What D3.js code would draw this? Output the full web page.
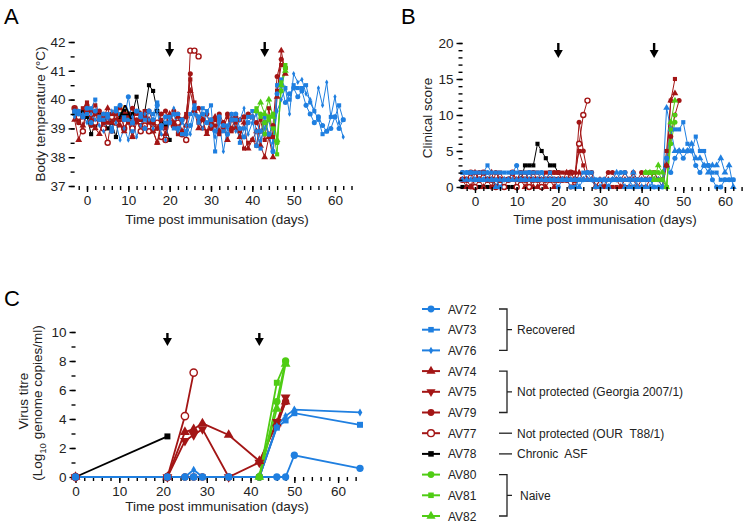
<!DOCTYPE html>
<html><head><meta charset="utf-8">
<script src="https://cdn.jsdelivr.net/npm/d3@7"></script>
<style>
body{margin:0;background:#fff;}
svg{display:block;font-family:"Liberation Sans",Arial,sans-serif;}
</style></head><body>
<svg id="c" width="754" height="523"></svg>
<script>
// ---------------- DATA ----------------
const animals = ["AV72","AV73","AV76","AV74","AV75","AV79","AV77","AV78","AV80","AV81","AV82"];
const groups  = ["rec","rec","rec","np","np","np","our","chr","nai","nai","nai"];
const legendSymbols = ["circle","square","diamond","triangle","triangleDown","circle","circleOpen","square","circle","square","triangle"];
const symbolsA = ["circle","square","diamond","triangle","square","circle","circleOpen","square","circle","square","triangle"];
const symbolsB = ["circle","square","triangle","triangle","square","circle","circleOpen","square","circle","square","triangle"];
const drawOrder = [7,6,3,4,5,0,1,2,8,9,10];

// Panel A: body temperature, daily, starting at startDays
const tempStartDays = [-3,-3,-3,-3,-3,-3,-3,-3,41,41,41];
const tempAV72 = [39.6,39.5,39.4,39.7,39.2,39.6,39.3,39.5,39.4,38.9,39.6,39.8,39.3,
  40.1,39.2,39.6,39.4,39.0,39.6,39.3,39.8,39.1,39.4,
  39.2,39.5,39.0,39.3,38.8,39.1,39.7,39.4,39.5,39.2,
  39.3,38.9,39.4,39.1,38.8,39.3,39.5,39.0,38.7,39.2,
  39.4,38.4,38.9,39.2,38.8,38.2,40.2,40.5,39.9,40.2,
  40.4,40.1,40.3,39.8,39.5,39.2,39.4,39.1,38.9,39.0,
  39.4,39.0,39.3];
const tempAV73 = [39.5,39.6,39.4,39.5,39.7,40.0,39.4,39.3,39.5,39.0,39.7,39.5,39.4,
  39.3,38.9,39.6,39.5,39.3,39.6,39.5,39.9,39.0,39.2,
  39.4,39.0,39.5,38.8,38.9,39.5,39.8,39.2,39.7,39.6,
  39.8,38.2,39.3,38.9,39.1,39.5,39.3,38.5,39.0,39.4,
  39.6,38.9,38.3,39.4,38.8,38.2,40.5,40.7,40.4,40.0,
  40.5,40.4,40.4,40.5,39.9,39.6,39.3,38.8,38.9,39.4,
  39.4,39.8,39.3];
const tempAV76 = [39.4,39.6,39.5,39.2,39.5,39.3,39.1,38.9,39.4,39.6,39.2,38.6,39.0,
  38.6,39.4,38.7,39.1,39.5,39.3,39.0,39.6,38.8,38.6,
  39.3,39.7,38.9,39.2,39.1,38.8,39.5,39.3,39.0,39.5,
  39.1,38.7,39.2,38.2,39.0,39.5,38.9,39.3,39.7,38.8,
  39.2,39.5,38.6,39.0,39.3,38.5,39.6,40.0,40.4,39.5,
  40.9,40.6,40.7,40.2,40.0,39.6,40.4,39.8,40.6,39.4,
  40.1,39.2,38.7];
const tempAV74 = [39.3,38.6,39.1,39.6,39.3,39.0,38.8,39.4,39.7,39.2,39.5,39.1,38.9,
  39.4,38.7,39.2,39.5,39.0,39.3,38.9,38.5,39.1,38.8,
  39.5,39.2,39.4,38.9,39.1,40.3,39.6,39.0,39.3,38.8,
  39.2,39.4,38.9,39.1,38.6,39.3,39.0,38.7,39.2,38.3,
  38.6,38.9,38.4,38.0,38.7,38.0,40.1,41.7,40.9];
const tempAV75 = [39.7,39.5,39.7,39.9,39.6,39.8,39.3,39.5,39.2,39.5,39.3,39.7,39.0,
  39.2,38.7,39.5,39.3,39.6,39.2,38.9,38.5,39.3,39.0,
  39.4,39.1,38.8,39.3,39.5,40.7,39.9,39.2,39.0,38.9,
  39.3,39.1,38.8,39.0,39.4,38.9,39.2,38.9,38.3,38.5,
  38.6,38.4,39.3,38.6,39.7,38.7,40.3,41.2,41.1];
const tempAV79 = [39.6,39.2,39.4,39.8,39.1,39.5,39.6,39.2,39.4,38.9,39.6,39.3,39.5,
  39.5,39.7,39.3,39.1,39.4,39.6,39.2,39.0,39.5,39.6,
  39.2,39.6,39.5,39.3,39.4,40.9,39.6,39.7,39.3,39.5,
  39.0,39.3,39.5,39.2,39.5,39.0,39.4,39.3,39.4,39.5,
  39.4,39.2,38.9,39.2,38.8,39.1,40.8,41.4,41.1];
const tempAV77 = [39.7,39.4,38.9,39.6,39.5,39.2,39.4,39.0,38.5,39.4,39.2,39.6,39.0,
  39.3,39.0,39.4,38.9,39.1,38.9,39.0,39.2,38.7,38.6,
  39.3,39.1,39.2,38.8,38.6,41.7,41.7,41.5];
const tempAV78 = [39.5,39.2,39.6,39.4,38.8,39.1,39.5,39.3,39.0,39.2,38.7,39.5,39.6,
  39.3,39.5,40.1,39.3,39.6,40.5,40.3,39.6,39.2,39.1,38.6];
const tempAV80 = [39.6,39.5,39.2,39.4,39.5,38.5,40.3,41.1];
const tempAV81 = [39.7,39.4,38.8,39.3,39.0,38.1,40.6,41.2];
const tempAV82 = [39.6,39.9,39.5,40.0,39.4,38.6,40.5,41.0];

// Panel B: clinical score
const scoreStartDays = [-3,-3,-3,-3,-3,-3,-3,-3,41,41,41];
const scoreAV72 = [2,2,2,1,1,1,2,1,1,0,1,1,2, 3,1,1,2,1,1,2,1,1,1, 0,1,1,0,0,1,1,2,1,1,
  1,1,0,1,1,2,2,1,0,1, 1,1,1,0,0,0,4,2,4,5, 4,5,5,3,2,3,3,1,0,0, 1,1,1];
const scoreAV73 = [2,2,2,2,2,2,3,2,2,2,2,2,2, 2,2,2,2,2,2,2,1,2,1, 1,1,1,1,1,1,2,2,2,1,
  1,1,1,1,1,1,1,1,1,1, 1,1,1,1,1,1,4,8,8,8, 9,6,5,7,5,5,3,2,2,1, 1,1,1];
const scoreAV76 = [1,1,1,1,1,1,1,1,0,1,1,1,1, 1,1,1,1,1,1,1,1,1,1, 1,1,1,1,1,0,1,1,1,0,
  0,1,0,1,2,1,0,0,2,0, 0,0,0,1,1,0,11,8,5,5, 5,5,6,4,4,3,2,3,3,4, 2,3,0];
const scoreAV74 = [1,0,0,2,1,0,1,2,0,1,1,1,1, 1,1,0,1,0,0,1,0,1,0, 1,1,2,1,0,2,1,1,1,0,
  1,0,1,1,1,0,1,1,1,0, 1,1,1,1,1,0,3,12,13];
const scoreAV75 = [1,1,2,2,1,2,1,1,1,2,1,1,2, 1,2,2,1,2,2,1,2,2,2, 2,2,2,2,2,5,3,1,1,0,
  0,0,0,0,0,0,0,0,0,0, 0,0,1,2,1,1,5,12,15];
const scoreAV79 = [2,1,0,1,2,2,1,0,2,1,1,1,2, 1,2,1,2,2,1,1,1,2,2, 2,1,1,0,1,9,5,2,2,0,
  1,1,2,2,1,1,2,1,2,1, 2,1,2,2,1,1,3,7,10,12];
const scoreAV77 = [1,1,2,0,1,2,1,1,0,1,0,1,2, 0,1,1,0,1,1,0,1,1,1, 1,1,1,2,1,6,10,12];
const scoreAV78 = [0,0,0,0,0,0,0,0,0,0,0,0,0, 0,1,3,3,3,6,5,4,3,3,2];
const scoreAV80 = [2,2,2,2,1,0,6,9];
const scoreAV81 = [2,2,1,1,1,0,8,10];
const scoreAV82 = [2,2,1,3,2,0,9,12];

// Panel C: virus titre
const virusDays = [0,21,25,27,29,35,42,46,48,50,65];
const virusAV72 = [0,0,0,0,0,0,0,0,0,1.5,0.6];
const virusAV73 = [0,0,0,0,0,0,0,3.4,3.9,4.4,3.6];
const virusAV76 = [0,0,0,0.5,0,0,0,3.5,4.2,4.65,4.45];
const virusAV74 = [0,0,3.1,3.3,3.7,2.9,1.1,3.7,5.2,null,null];
const virusAV75 = [0,0,2.5,2.9,3.3,0,1.0,3.8,5.5,null,null];
const virusAV79 = [0,0,0,0,0,0,0,3.5,5.2,null,null];
const virusAV77 = [0,0,4.2,7.2,null,null,null,null,null,null,null];
const virusAV78 = [0,2.8,null,null,null,null,null,null,null,null,null];
const virusAV80 = [null,null,null,null,null,null,0,5.2,8.0,null,null];
const virusAV81 = [null,null,null,null,null,null,0,6.5,7.9,null,null];
const virusAV82 = [null,null,null,null,null,null,0,4.7,7.8,null,null];

const tempData  = [tempAV72,tempAV73,tempAV76,tempAV74,tempAV75,tempAV79,tempAV77,tempAV78,tempAV80,tempAV81,tempAV82];
const scoreData = [scoreAV72,scoreAV73,scoreAV76,scoreAV74,scoreAV75,scoreAV79,scoreAV77,scoreAV78,scoreAV80,scoreAV81,scoreAV82];
const virusData = [virusAV72,virusAV73,virusAV76,virusAV74,virusAV75,virusAV79,virusAV77,virusAV78,virusAV80,virusAV81,virusAV82];

const arrowDaysAB = [20,43];
const arrowDaysC = [21,42];
const legendGroups = [
  {label:"Recovered", from:0, to:2},
  {label:"Not protected (Georgia 2007/1)", from:3, to:5},
  {label:"Not protected (OUR  T88/1)", from:6, to:6},
  {label:"Chronic  ASF", from:7, to:7},
  {label:"Naive", from:8, to:10}
];

// ---------------- STYLE ----------------
const groupColor = {rec:"#1f7fe0", np:"#a31515", our:"#a31515", chr:"#000000", nai:"#4fcc14"};
const svg = d3.select("#c");

function symPath(type, size){
  const map = {circle:d3.symbolCircle, circleOpen:d3.symbolCircle, square:d3.symbolSquare,
    diamond:d3.symbolDiamond, triangle:d3.symbolTriangle, triangleDown:d3.symbolTriangle};
  const s = (type==="square") ? size*0.85 : (type==="diamond"? size*0.45 : size);
  return d3.symbol().type(map[type]).size(s)();
}
function drawSym(g, type, color, x, y, size){
  const p = g.append("path").attr("d", symPath(type,size))
    .attr("transform", `translate(${x},${y})` + (type==="triangleDown" ? " rotate(180)" : ""));
  if(type==="circleOpen") p.attr("fill","#fff").attr("stroke",color).attr("stroke-width",1.4);
  else p.attr("fill",color);
}

function drawAxes(g, x, y, o){
  const y0 = y.range()[0];
  const x0 = x.range()[0];
  const ax = g.append("g").attr("transform",`translate(0,${y0})`);
  ax.call(d3.axisBottom(x).tickValues(o.xMinor).tickSize(4).tickSizeOuter(0).tickFormat(""));
  ax.append("g").call(d3.axisBottom(x).tickValues(o.xMajor).tickSize(6).tickSizeOuter(0).tickFormat(d3.format("d")));
  const ay = g.append("g").attr("transform",`translate(${x0},0)`);
  ay.call(d3.axisLeft(y).tickValues(o.yMinor).tickSize(4).tickSizeOuter(0).tickFormat(""));
  ay.append("g").call(d3.axisLeft(y).tickValues(o.yMajor).tickSize(6).tickSizeOuter(0).tickFormat(d3.format("d")));
  g.selectAll(".domain").attr("stroke","#000").attr("stroke-width",2);
  g.selectAll(".tick line").attr("stroke","#000").attr("stroke-width",1.4);
  g.selectAll(".tick text").attr("font-size","13.5px").attr("fill","#222")
    .attr("font-family",'"Liberation Sans",Arial,sans-serif');
  ax.selectAll("g g .domain").remove();
  ay.selectAll("g g .domain").remove();
}

function drawArrow(g, x, yTop, len){
  g.append("line").attr("x1",x).attr("x2",x).attr("y1",yTop).attr("y2",yTop+len-6)
    .attr("stroke","#000").attr("stroke-width",2.4);
  g.append("path").attr("d",`M${x-4.5},${yTop+len-8} L${x+4.5},${yTop+len-8} L${x},${yTop+len} Z`).attr("fill","#000");
}

function drawSeries(g, x, y, list, symbols, size, lw){
  const line = d3.line().defined(d=>d.v!=null).x(d=>x(d.day)).y(d=>y(d.v));
  drawOrder.forEach(i=>{
    const col = groupColor[groups[i]];
    const pts = list[i];
    g.append("path").datum(pts).attr("d",line).attr("fill","none").attr("stroke",col).attr("stroke-width",lw);
  });
  drawOrder.forEach(i=>{
    const col = groupColor[groups[i]];
    list[i].filter(d=>d.v!=null).forEach(d=>drawSym(g, symbols[i], col, x(d.day), y(d.v), size));
  });
}

function panelLabel(t, x, y){
  svg.append("text").attr("x",x).attr("y",y).attr("font-size","22px").attr("fill","#000").text(t);
}
function titleX(t, cx, by){
  svg.append("text").attr("x",cx).attr("y",by).attr("text-anchor","middle").attr("font-size","13.5px").attr("fill","#222").text(t);
}
function titleY(t, bx, cy){
  svg.append("text").attr("transform",`translate(${bx},${cy}) rotate(-90)`).attr("text-anchor","middle")
    .attr("font-size","13.5px").attr("fill","#222").text(t);
}

// ---------------- PANEL A ----------------
{
  const x = d3.scaleLinear().domain([-3,65.5]).range([74.6,357.7]);
  const y = d3.scaleLinear().domain([37,42]).range([186,42]);
  const g = svg.append("g");
  const series = tempData.map((arr,i)=>arr.map((v,j)=>({day:tempStartDays[i]+j, v})));
  drawSeries(g, x, y, series, symbolsA, 20, 1);
  drawAxes(g, x, y, {xMajor:[0,10,20,30,40,50,60], xMinor:d3.range(-2,66,2),
    yMajor:[37,38,39,40,41,42], yMinor:d3.range(37,42.01,0.5)});
  arrowDaysAB.forEach(d=>drawArrow(g, x(d), 42, 15));
  svg.append("text").attr("x",118).attr("y",119).attr("font-size","21px").attr("fill","#000").text("A");
  panelLabel("A", 4, 24);
  titleY("Body temperature (°C)", 45, 114);
  titleX("Time post immunisation (days)", 217, 224);
}

// ---------------- PANEL B ----------------
{
  const x = d3.scaleLinear().domain([-3,65.3]).range([462.5,747]);
  const y = d3.scaleLinear().domain([0,20]).range([187,43]);
  const g = svg.append("g");
  const series = scoreData.map((arr,i)=>arr.map((v,j)=>({day:scoreStartDays[i]+j, v})));
  drawSeries(g, x, y, series, symbolsB, 20, 1);
  drawAxes(g, x, y, {xMajor:[0,10,20,30,40,50,60], xMinor:d3.range(-2,66,2),
    yMajor:[0,5,10,15,20], yMinor:d3.range(0,20.1,1)});
  arrowDaysAB.forEach(d=>drawArrow(g, x(d), 43, 15));
  panelLabel("B", 401, 24);
  titleY("Clinical score", 432, 118);
  titleX("Time post immunisation (days)", 605, 224);
}

// ---------------- PANEL C ----------------
{
  const x = d3.scaleLinear().domain([0,65]).range([75.5,360]);
  const y = d3.scaleLinear().domain([0,10]).range([477,332]);
  const g = svg.append("g");
  const series = virusData.map(arr=>arr.map((v,j)=>({day:virusDays[j], v})));
  drawAxes(g, x, y, {xMajor:[0,10,20,30,40,50,60], xMinor:d3.range(0,66,2),
    yMajor:[0,2,4,6,8,10], yMinor:d3.range(0,10.1,1)});
  drawSeries(g, x, y, series, legendSymbols, 42, 1.8);
  arrowDaysC.forEach(d=>drawArrow(g, x(d), 333, 13));
  panelLabel("C", 4, 306);
  titleY("Virus titre", 28, 401);
  const t = svg.append("text").attr("transform","translate(42,403) rotate(-90)").attr("text-anchor","middle")
    .attr("font-size","13.5px").attr("fill","#222");
  t.append("tspan").text("(Log");
  t.append("tspan").attr("font-size","9.5px").attr("dy","4").text("10");
  t.append("tspan").attr("dy","-4").text(" genome copies/ml)");
  titleX("Time post immunisation (days)", 217, 511);
}

// ---------------- LEGEND ----------------
{
  const g = svg.append("g");
  const rowY = i => 309 + i*20.7;
  animals.forEach((a,i)=>{
    const col = groupColor[groups[i]];
    g.append("line").attr("x1",422).attr("x2",440).attr("y1",rowY(i)).attr("y2",rowY(i))
      .attr("stroke",col).attr("stroke-width",2);
    drawSym(g, legendSymbols[i], col, 431, rowY(i), 36);
    g.append("text").attr("x",448).attr("y",rowY(i)+4.5).attr("font-size","12px").attr("fill","#222").text(a);
  });
  legendGroups.forEach(gr=>{
    const y1 = rowY(gr.from), y2 = rowY(gr.to), ym = (y1+y2)/2;
    if(gr.from===gr.to){
      g.append("line").attr("x1",499).attr("x2",512).attr("y1",ym).attr("y2",ym).attr("stroke","#222").attr("stroke-width",1.3);
    } else {
      g.append("path").attr("d",`M499,${y1} H507 V${y2} H499 M507,${ym} H512`).attr("fill","none")
        .attr("stroke","#222").attr("stroke-width",1.3);
    }
    g.append("text").attr("x", gr.label==="Naive"?520:517).attr("y",ym+4.5).attr("font-size","12px")
      .attr("fill","#222").style("white-space","pre").text(gr.label);
  });
}
</script>
</body></html>
